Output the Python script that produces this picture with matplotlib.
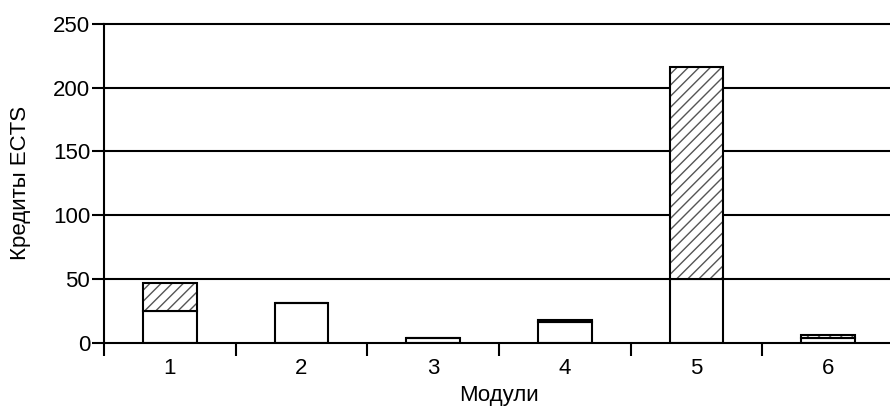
import matplotlib
matplotlib.use("Agg")
import matplotlib.pyplot as plt

# ----------------------------------------------------------
# Data: ECTS credits per module
# ----------------------------------------------------------
modules = [1, 2, 3, 4, 5, 6]
credits_base = [25, 31, 4, 16, 50, 4]       # white part
credits_extra = [22, 0, 0, 1.5, 166, 2]     # hatched part
y_ticks = [0, 50, 100, 150, 200, 250]

plt.rcParams["font.family"] = ["Liberation Sans", "DejaVu Sans"]
plt.rcParams["hatch.linewidth"] = 1.0

fig = plt.figure(figsize=(8.9, 4.12), dpi=100)
ax = fig.add_axes([104 / 890, (412 - 342.7) / 412, 790 / 890, 318.7 / 412])

width = 0.41
lw = 1.5
fs = 16

# white bottom bars
ax.bar(modules, credits_base, width=width, color="white",
       edgecolor="black", linewidth=lw, zorder=3)

# hatched top part: hatch in gray, outline in black
ax.bar(modules, credits_extra, width=width, bottom=credits_base,
       color="white", edgecolor="#555555", hatch="///", linewidth=0, zorder=3)
ax.bar(modules, credits_extra, width=width, bottom=credits_base,
       fill=False, edgecolor="black", linewidth=lw, zorder=4)

# horizontal grid lines
for yv in y_ticks[1:]:
    ax.axhline(yv, color="black", linewidth=lw, zorder=1, clip_on=False)

ax.set_xlim(0.5, 6.5)
ax.set_ylim(0, 250)
ax.set_yticks(y_ticks)
ax.set_xticks(modules)
ax.set_xticks([m - 0.5 for m in modules] + [6.5], minor=True)

ax.tick_params(axis="x", which="major", length=0, labelsize=fs, pad=11)
ax.tick_params(axis="x", which="minor", length=9, width=lw, direction="out")
ax.tick_params(axis="y", length=9, width=lw, direction="out", labelsize=fs, pad=1)

for side in ["top", "right"]:
    ax.spines[side].set_visible(False)
ax.spines["left"].set_linewidth(lw)
ax.spines["bottom"].set_linewidth(lw)
ax.spines["bottom"].set_zorder(5)

ax.set_xlabel("Модули", fontsize=fs, labelpad=4)
ax.set_ylabel("Кредиты ECTS", fontsize=fs, labelpad=16)

fig.savefig("out.png", dpi=100)
